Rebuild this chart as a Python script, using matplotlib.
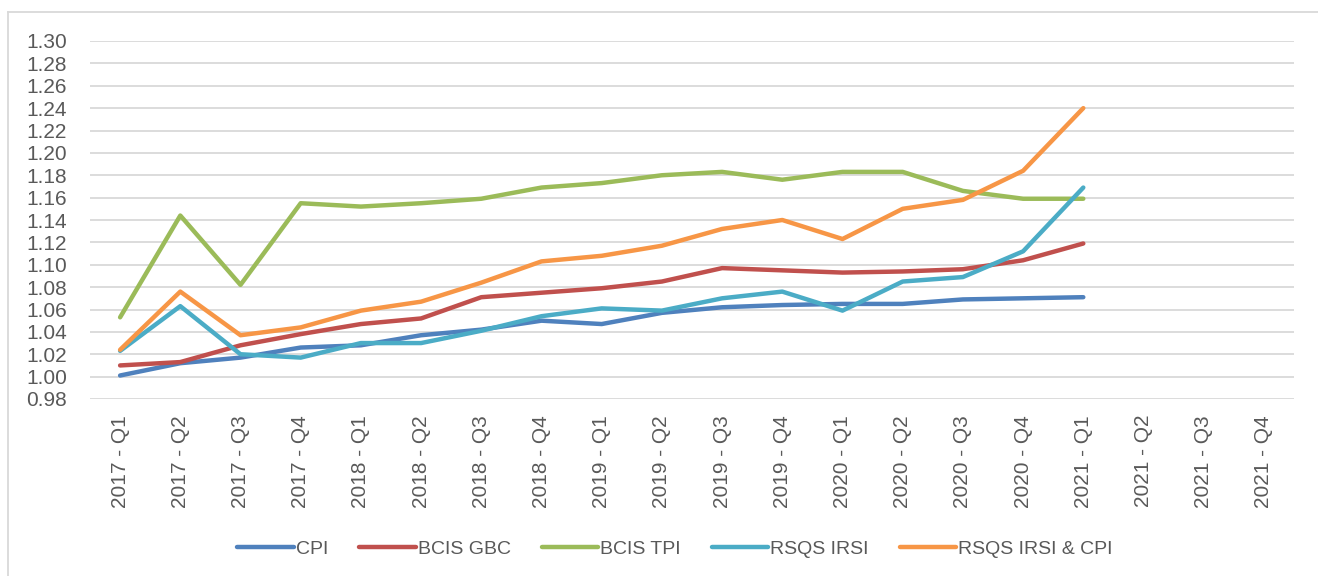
import matplotlib
matplotlib.use('Agg')
import matplotlib.pyplot as plt
from matplotlib.lines import Line2D

quarters = [f"{y} - Q{q}" for y in range(2017, 2022) for q in range(1, 5)]

cpi = [1.001, 1.012, 1.017, 1.026, 1.028, 1.037, 1.042, 1.050, 1.047, 1.057,
       1.062, 1.064, 1.065, 1.065, 1.069, 1.070, 1.071]
bcis_gbc = [1.010, 1.013, 1.028, 1.038, 1.047, 1.052, 1.071, 1.075, 1.079, 1.085,
            1.097, 1.095, 1.093, 1.094, 1.096, 1.104, 1.119]
bcis_tpi = [1.053, 1.144, 1.082, 1.155, 1.152, 1.155, 1.159, 1.169, 1.173, 1.180,
            1.183, 1.176, 1.183, 1.183, 1.166, 1.159, 1.159]
rsqs_irsi = [1.023, 1.063, 1.020, 1.017, 1.030, 1.030, 1.041, 1.054, 1.061, 1.059,
             1.070, 1.076, 1.059, 1.085, 1.089, 1.112, 1.169]
rsqs_cpi = [1.024, 1.076, 1.037, 1.044, 1.059, 1.067, 1.084, 1.103, 1.108, 1.117,
            1.132, 1.140, 1.123, 1.150, 1.158, 1.184, 1.240]

series = [
    ("CPI", cpi, "#4F81BD"),
    ("BCIS GBC", bcis_gbc, "#C0504D"),
    ("BCIS TPI", bcis_tpi, "#9BBB59"),
    ("RSQS IRSI", rsqs_irsi, "#4BACC6"),
    ("RSQS IRSI & CPI", rsqs_cpi, "#F79646"),
]

plt.rcParams['font.family'] = ['Liberation Sans', 'DejaVu Sans']
text_col = '#595959'
grid_col = '#D9D9D9'

W, H = 1318, 576
fig = plt.figure(figsize=(W / 100, H / 100), dpi=100)
ax = fig.add_axes([90 / W, 1 - 399 / H, (1294 - 90) / W, (399 - 41) / H])

for name, vals, col in series:
    ax.plot(range(len(vals)), vals, color=col, lw=3.2, label=name,
            solid_capstyle='round', solid_joinstyle='round')

ax.set_xlim(-0.5, len(quarters) - 0.5)
ax.set_ylim(0.98, 1.30)
yt = [0.98 + 0.02 * i for i in range(17)]
ax.set_yticks(yt)
ax.set_yticklabels([f"{v:.2f}" for v in yt])
ax.set_xticks(range(len(quarters)))
ax.set_xticklabels(quarters, rotation=90)
ax.tick_params(axis='y', length=0, pad=16.5, labelsize=15, labelcolor=text_col)
ax.tick_params(axis='x', length=0, pad=11.5, labelsize=15, labelcolor=text_col)
ax.grid(axis='y', color=grid_col, lw=1.3)
ax.set_axisbelow(True)
for s in ax.spines.values():
    s.set_visible(False)

# chart frame
fig.add_artist(Line2D([8 / W, 8 / W], [0, 1 - 12 / H], color=grid_col, lw=1.3))
fig.add_artist(Line2D([8 / W, 1], [1 - 12 / H, 1 - 12 / H], color=grid_col, lw=1.3))

fig.legend(loc='center', bbox_to_anchor=(675 / W, 1 - 549 / H), ncol=5,
           frameon=False, fontsize=14, labelcolor=text_col, handlelength=2.9,
           handletextpad=0.1, columnspacing=1.6)

fig.savefig('out.png', dpi=100)
